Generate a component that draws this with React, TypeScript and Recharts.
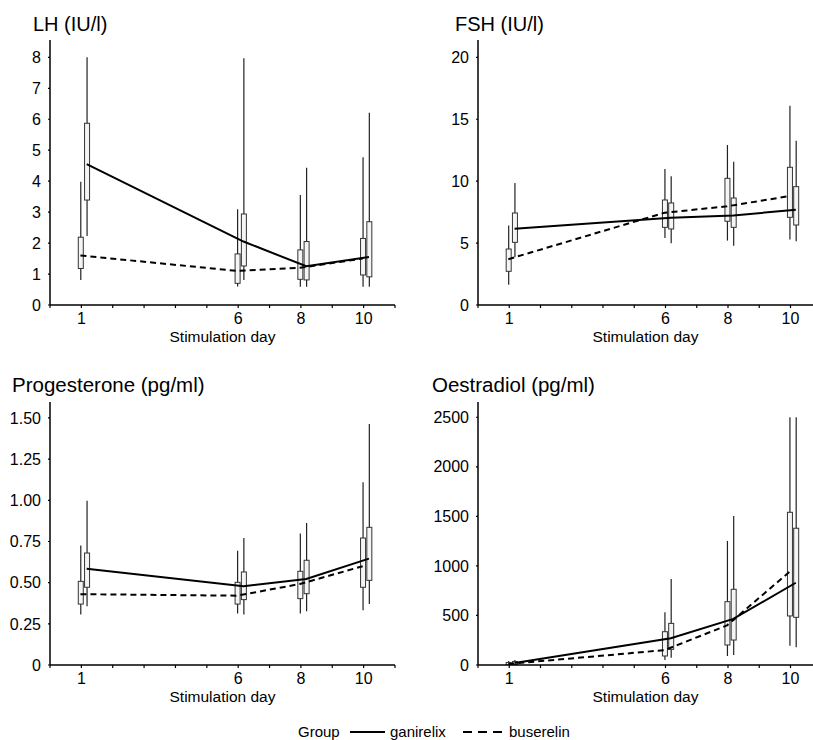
import React from 'react';
import { ComposedChart, XAxis, YAxis, Bar, Line } from 'recharts';

// ---------- data ----------
const DAYS = [1, 6, 8, 10];
const X_TICKS = [0, 1, 2, 3, 4, 5, 6, 7, 8, 9, 10, 11];
const X_TICK_LABELS = ['', '1', '', '', '', '', '6', '', '8', '', '10', ''];

// each row: [min, q1, median, q3, max] for days 1, 6, 8, 10
const LH_GANIRELIX = [
  [2.23, 3.39, 4.55, 5.87, 8.0],
  [0.81, 1.26, 2.05, 2.94, 7.97],
  [0.59, 0.81, 1.25, 2.05, 4.43],
  [0.59, 0.91, 1.55, 2.69, 6.21],
];
const LH_BUSERELIN = [
  [0.81, 1.18, 1.6, 2.19, 3.98],
  [0.6, 0.7, 1.1, 1.65, 3.09],
  [0.59, 0.83, 1.2, 1.78, 3.55],
  [0.59, 0.97, 1.5, 2.15, 4.77],
];
const LH_TICKS = [0, 1, 2, 3, 4, 5, 6, 7, 8];
const LH_TICK_LABELS = ['0', '1', '2', '3', '4', '5', '6', '7', '8'];

const FSH_GANIRELIX = [
  [3.85, 5.06, 6.15, 7.43, 9.85],
  [4.98, 6.14, 7.05, 8.24, 10.39],
  [4.79, 6.27, 7.22, 8.64, 11.57],
  [5.14, 6.46, 7.7, 9.56, 13.27],
];
const FSH_BUSERELIN = [
  [1.64, 2.72, 3.7, 4.52, 6.41],
  [5.41, 6.27, 7.45, 8.48, 10.98],
  [5.2, 6.76, 7.97, 10.23, 12.92],
  [5.28, 7.08, 8.8, 11.12, 16.1],
];
const FSH_TICKS = [0, 5, 10, 15, 20];
const FSH_TICK_LABELS = ['0', '5', '10', '15', '20'];

const PROG_GANIRELIX = [
  [0.356, 0.472, 0.585, 0.68, 0.998],
  [0.306, 0.397, 0.478, 0.565, 0.771],
  [0.326, 0.433, 0.522, 0.636, 0.862],
  [0.37, 0.514, 0.646, 0.836, 1.464],
];
const PROG_BUSERELIN = [
  [0.306, 0.37, 0.43, 0.508, 0.725],
  [0.312, 0.37, 0.421, 0.502, 0.694],
  [0.312, 0.403, 0.492, 0.569, 0.798],
  [0.332, 0.472, 0.6, 0.771, 1.109],
];
const PROG_TICKS = [0, 0.25, 0.5, 0.75, 1.0, 1.25, 1.5];
const PROG_TICK_LABELS = ['0', '0.25', '0.50', '0.75', '1.00', '1.25', '1.50'];

const OEST_GANIRELIX = [
  [0, 5, 20, 35, 50],
  [74, 158, 270, 420, 868],
  [101, 252, 465, 764, 1504],
  [178, 481, 830, 1380, 2500],
];
const OEST_BUSERELIN = [
  [0, 2, 10, 25, 40],
  [50, 91, 150, 336, 532],
  [91, 202, 400, 639, 1252],
  [195, 495, 940, 1541, 2500],
];
const OEST_TICKS = [0, 500, 1000, 1500, 2000, 2500];
const OEST_TICK_LABELS = ['0', '500', '1000', '1500', '2000', '2500'];

const GROUP_LABELS = ['ganirelix', 'buserelin'];

// ---------- layout ----------
const OFFSET_BUS = -0.03;
const OFFSET_GAN = 0.17;
const FONT = '"Liberation Sans", Arial, Helvetica, sans-serif';
const TICK_FS = 16;

function buildRows(gan: number[][], bus: number[][]) {
  const rows: any[] = [];
  DAYS.forEach((d, i) => {
    rows.push({ x: d + OFFSET_BUS, range: [bus[i][0], bus[i][4]], stats: bus[i] });
    rows.push({ x: d + OFFSET_GAN, range: [gan[i][0], gan[i][4]], stats: gan[i] });
  });
  return rows;
}

function buildLine(stats: number[][], offset: number) {
  return DAYS.map((d, i) => ({ x: d + offset, y: stats[i][2] }));
}

// The bar spans [min, max]; its pixel geometry (from the library's y scale)
// gives the px-per-unit factor used to place the quartile box inside it.
const BoxWhisker = (p: any) => {
  const s = p.payload && p.payload.stats;
  if (!s) return <g />;
  const cx = p.x + p.width / 2;
  const yTop = Math.min(p.y, p.y + p.height);
  const h = Math.abs(p.height);
  const span = s[4] - s[0];
  const k = span > 0 ? h / span : 0;
  const boxTop = yTop + (s[4] - s[3]) * k;
  const boxBottom = yTop + (s[4] - s[1]) * k;
  return (
    <g>
      <line x1={cx} x2={cx} y1={yTop} y2={yTop + h} stroke="#222" strokeWidth={1.2} />
      <rect x={cx - 2.5} y={boxTop} width={5} height={Math.max(boxBottom - boxTop, 1)} fill="#f5f5f5" stroke="#333" strokeWidth={1} />
    </g>
  );
};

const XTick = (p: any) => {
  const idx = X_TICKS.indexOf(Math.round(p.payload.value));
  const label = idx >= 0 ? X_TICK_LABELS[idx] : '';
  if (!label) return <g />;
  return (
    <text x={p.x} y={p.y} dy={TICK_FS * 0.71} textAnchor="middle" fill="#000" fontSize={TICK_FS} fontFamily={FONT}>
      {label}
    </text>
  );
};

type PanelProps = {
  left: number;
  top: number;
  width: number;
  marginLeft: number;
  marginRight: number;
  marginTop: number;
  xMax: number;
  yMax: number;
  yTicks: number[];
  yLabels: string[];
  gan: number[][];
  bus: number[][];
};

function Panel(props: PanelProps) {
  const { left, top, width, marginLeft, marginRight, marginTop, xMax, yMax, yTicks, yLabels, gan, bus } = props;
  const rows = buildRows(gan, bus);
  const ganLine = buildLine(gan, OFFSET_GAN);
  const busLine = buildLine(bus, OFFSET_BUS);
  const xTicks = X_TICKS.filter((t) => t <= xMax);
  return (
    <div style={{ position: 'absolute', left, top }}>
      <ComposedChart
        width={width}
        height={350}
        data={rows}
        margin={{ top: marginTop, left: marginLeft, right: marginRight, bottom: 8 }}
      >
        <XAxis
          type="number"
          dataKey="x"
          domain={[0, xMax]}
          ticks={xTicks}
          interval={0}
          allowDataOverflow
          tick={<XTick />}
          tickSize={3}
          tickMargin={5}
          height={37}
          stroke="#000"
          axisLine={{ stroke: '#000', strokeWidth: 1.5 }}
          tickLine={{ stroke: '#000', strokeWidth: 1.2 }}
          label={{ value: 'Stimulation day', position: 'insideBottom', offset: 0, fill: '#000', fontSize: 15.5, fontFamily: FONT }}
        />
        <YAxis
          type="number"
          domain={[0, yMax]}
          ticks={yTicks}
          interval={0}
          allowDataOverflow
          width={40}
          tickSize={2}
          tickMargin={7}
          stroke="#000"
          axisLine={{ stroke: '#000', strokeWidth: 1.5 }}
          tickLine={{ stroke: '#000', strokeWidth: 1.2 }}
          tick={{ fill: '#000', fontSize: TICK_FS, fontFamily: FONT }}
          tickFormatter={(v: number) => {
            const i = yTicks.findIndex((t) => Math.abs(t - v) < 1e-9);
            return i >= 0 ? yLabels[i] : String(v);
          }}
        />
        <Bar dataKey="range" barSize={5} shape={<BoxWhisker />} isAnimationActive={false} />
        <Line
          data={busLine}
          dataKey="y"
          type="linear"
          stroke="#000"
          strokeWidth={2}
          strokeDasharray="6 4"
          dot={false}
          activeDot={false}
          isAnimationActive={false}
        />
        <Line
          data={ganLine}
          dataKey="y"
          type="linear"
          stroke="#000"
          strokeWidth={2}
          dot={false}
          activeDot={false}
          isAnimationActive={false}
        />
      </ComposedChart>
    </div>
  );
}

export default function App() {
  return (
    <div
      style={{
        position: 'absolute',
        left: 0,
        top: 0,
        width: 813,
        height: 740,
        background: '#fff',
        overflow: 'hidden',
        fontFamily: FONT,
      }}
    >
      <Panel left={0} top={0} width={406} marginLeft={10} marginRight={11} marginTop={40}
        xMax={11} yMax={8.56} yTicks={LH_TICKS} yLabels={LH_TICK_LABELS} gan={LH_GANIRELIX} bus={LH_BUSERELIN} />
      <Panel left={406} top={0} width={407} marginLeft={32} marginRight={0} marginTop={40}
        xMax={10.72} yMax={21.4} yTicks={FSH_TICKS} yLabels={FSH_TICK_LABELS} gan={FSH_GANIRELIX} bus={FSH_BUSERELIN} />
      <Panel left={0} top={360} width={406} marginLeft={10} marginRight={11} marginTop={42}
        xMax={11} yMax={1.597} yTicks={PROG_TICKS} yLabels={PROG_TICK_LABELS} gan={PROG_GANIRELIX} bus={PROG_BUSERELIN} />
      <Panel left={406} top={360} width={407} marginLeft={32} marginRight={0} marginTop={42}
        xMax={10.72} yMax={2654} yTicks={OEST_TICKS} yLabels={OEST_TICK_LABELS} gan={OEST_GANIRELIX} bus={OEST_BUSERELIN} />
      <svg width={813} height={740} style={{ position: 'absolute', left: 0, top: 0, pointerEvents: 'none' }}>
        <g fontFamily={FONT} fill="#000">
          <text x={33} y={31} fontSize={20}>LH (IU/l)</text>
          <text x={455} y={31} fontSize={20}>FSH (IU/l)</text>
          <text x={12} y={392} fontSize={20.5}>Progesterone (pg/ml)</text>
          <text x={432} y={392} fontSize={20.5}>Oestradiol (pg/ml)</text>
          <text x={298} y={737} fontSize={15}>Group</text>
          <line x1={350} x2={385} y1={732} y2={732} stroke="#000" strokeWidth={2} />
          <text x={390} y={737} fontSize={15}>{GROUP_LABELS[0]}</text>
          <line x1={463} x2={503} y1={732} y2={732} stroke="#000" strokeWidth={2} strokeDasharray="9 6" />
          <text x={509} y={737} fontSize={15}>{GROUP_LABELS[1]}</text>
        </g>
      </svg>
    </div>
  );
}
